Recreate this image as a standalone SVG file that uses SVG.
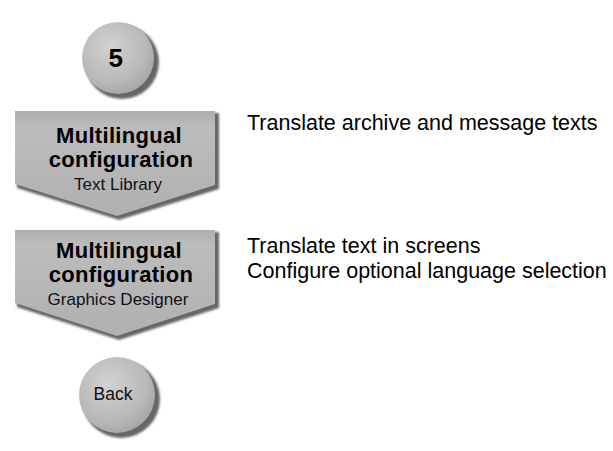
<svg xmlns="http://www.w3.org/2000/svg" width="613" height="451" viewBox="0 0 613 451">
  <defs>
    <radialGradient id="ballGrad" cx="0.4" cy="0.35" r="0.7">
      <stop offset="0" stop-color="#d2d2d2"/>
      <stop offset="0.7" stop-color="#b8b8b8"/>
      <stop offset="1" stop-color="#a4a4a4"/>
    </radialGradient>
    <linearGradient id="chevGrad" x1="0" y1="0" x2="0" y2="1">
      <stop offset="0" stop-color="#aeaeae"/>
      <stop offset="0.15" stop-color="#bcbcbc"/>
      <stop offset="1" stop-color="#b0b0b0"/>
    </linearGradient>
    <filter id="soft" x="-10%" y="-10%" width="120%" height="120%">
      <feGaussianBlur stdDeviation="1.2"/>
    </filter>
  </defs>
  <style>
    .shadow { fill: #666666; filter: url(#soft); }
    .ball { fill: url(#ballGrad); }
    .chev { fill: url(#chevGrad); }
    .title { font-family: "Liberation Sans", Arial, sans-serif; font-weight: bold; font-size: 22px; letter-spacing: 0.3px; fill: #000; text-anchor: middle; }
    .sub { font-family: "Liberation Sans", Arial, sans-serif; font-size: 17px; fill: #111; text-anchor: middle; }
    .desc { font-family: "Liberation Sans", Arial, sans-serif; font-size: 21.5px; fill: #000; }
  </style>
  <rect width="613" height="451" fill="#ffffff"/>

  <g id="step5">
    <circle class="shadow" cx="122" cy="62" r="37"/>
    <circle class="ball" cx="118" cy="58" r="36"/>
    <text x="116" y="67" class="title" style="font-size:26px">5</text>
  </g>

  <g id="textlibrary">
    <polygon class="shadow" points="17,113 219,113 219,189 119,220 17,188"/>
    <polygon class="chev" points="15,111 215,111 215,185 117,216 15,184"/>
    <text x="119" y="143" class="title">Multilingual</text>
    <text x="121" y="167" class="title">configuration</text>
    <text x="118" y="190" class="sub">Text Library</text>
  </g>

  <g id="graphicsdesigner">
    <polygon class="shadow" points="17,232 219,232 219,308 119,340 17,307"/>
    <polygon class="chev" points="15,230 215,230 215,304 117,336 15,303"/>
    <text x="119" y="258" class="title">Multilingual</text>
    <text x="121" y="282" class="title">configuration</text>
    <text x="118" y="305" class="sub">Graphics Designer</text>
  </g>

  <g id="back">
    <circle class="shadow" cx="121" cy="399" r="39"/>
    <circle class="ball" cx="117" cy="395" r="38"/>
    <text x="113" y="400" class="sub" style="font-size:17.5px">Back</text>
  </g>

  <g id="descriptions">
    <text x="247" y="130" class="desc">Translate archive and message texts</text>
    <text x="247" y="253" class="desc">Translate text in screens</text>
    <text x="247" y="278" class="desc">Configure optional language selection</text>
  </g>

  <g id="connectors"/>
</svg>
